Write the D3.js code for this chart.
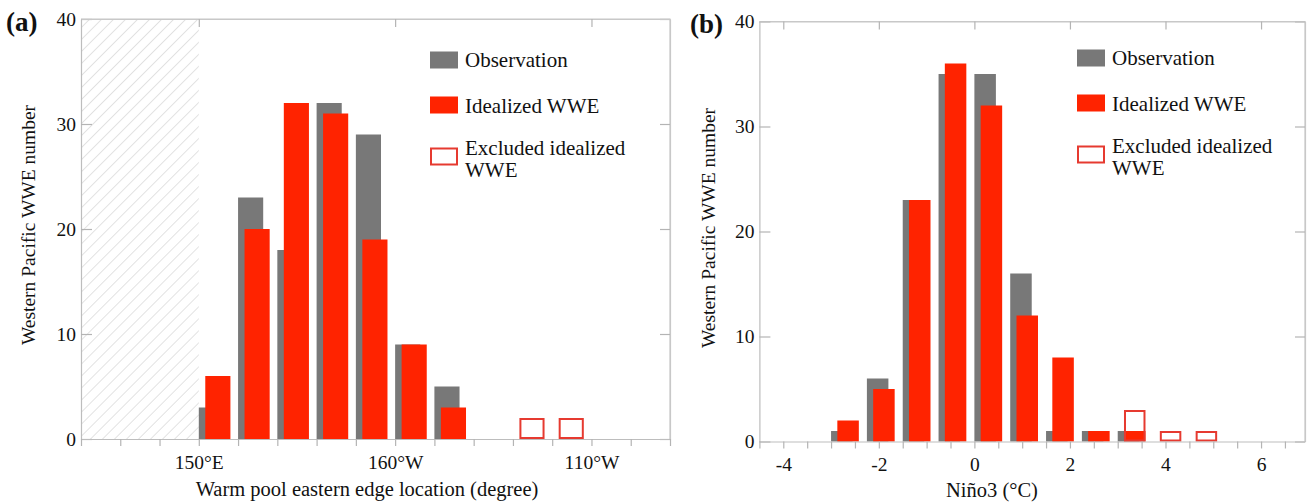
<!DOCTYPE html>
<html>
<head>
<meta charset="utf-8">
<script src="https://cdn.jsdelivr.net/npm/d3@7"></script>
<style>
  html, body { margin: 0; padding: 0; background: #fff; }
  svg { display: block; font-family: "Liberation Serif", "DejaVu Serif", serif; }
</style>
</head>
<body>
<svg id="chart" width="1307" height="502"></svg>
<script>
// ---- Panel (a): warm pool eastern edge location, 10° bins (longitude in °E, 0–360)
const binsA = [150, 160, 170, 180, 190, 200, 210];
const obsA = [3, 23, 18, 32, 29, 9, 5];
const idealA = [6, 20, 32, 31, 19, 9, 3];
const excludedBinsA = [230, 240];
const excludedA = [2, 2];
const tickLabelsA = [[150, "150°E"], [200, "160°W"], [250, "110°W"]];

// ---- Panel (b): Niño3 index, 0.75 °C bins
const binsB = [-3, -2.25, -1.5, -0.75, 0, 0.75, 1.5, 2.25, 3];
const obsB = [1, 6, 23, 35, 35, 16, 1, 1, 1];
const idealB = [2, 5, 23, 36, 32, 12, 8, 1, 1];
const excludedBinsB = [3, 3.75, 4.5];
const excludedB = [3, 1, 1];   // outline height (counted from zero)
const tickLabelsB = [-4, -2, 0, 2, 4, 6];

const yTicks = [0, 10, 20, 30, 40];
const legendItems = ["Observation", "Idealized WWE", ["Excluded idealized", "WWE"]];

const GRAY = "#787878", RED = "#ff2300", OUTLINE = "#e63a30", FRAME = "#c8c8c8";
const FS = 19.5, FS_LEG = 21, FS_TITLE = 20.5;

const svg = d3.select("#chart");
const defs = svg.append("defs");
const pat = defs.append("pattern")
  .attr("id", "hatch").attr("patternUnits", "userSpaceOnUse")
  .attr("width", 8.5).attr("height", 8.5)
  .attr("patternTransform", "rotate(45)");
pat.append("line").attr("x1", 0).attr("y1", 0).attr("x2", 0).attr("y2", 8.5)
  .attr("stroke", "#cbcbcb").attr("stroke-width", 1.1);

function panel(cfg) {
  const { x, y } = cfg;
  const g = svg.append("g");
  const [x0, x1] = x.range();
  const [y0, y1] = y.range(); // y0 bottom, y1 top

  if (cfg.hatch) {
    g.append("rect")
      .attr("x", x0).attr("y", y1)
      .attr("width", x(cfg.hatch[1]) - x0).attr("height", y0 - y1)
      .attr("fill", "url(#hatch)");
  }

  // frame: top and right
  g.append("path")
    .attr("d", `M${x0},${y1}H${x1}V${y0}`)
    .attr("fill", "none").attr("stroke", FRAME).attr("stroke-width", 1.2);

  // bars
  const bw = cfg.binWidth;
  g.selectAll(".obs").data(cfg.bins).join("rect")
    .attr("x", (d) => x(d))
    .attr("width", (d) => x(d + bw * cfg.barFrac) - x(d))
    .attr("y", (d, i) => y(cfg.obs[i]))
    .attr("height", (d, i) => y(0) - y(cfg.obs[i]))
    .attr("fill", GRAY);
  g.selectAll(".ideal").data(cfg.bins).join("rect")
    .attr("x", (d) => x(d + bw * cfg.redOff))
    .attr("width", (d) => x(d + bw * (cfg.redOff + cfg.barFrac)) - x(d + bw * cfg.redOff))
    .attr("y", (d, i) => y(cfg.ideal[i]))
    .attr("height", (d, i) => y(0) - y(cfg.ideal[i]))
    .attr("fill", RED);
  g.selectAll(".excl").data(cfg.exBins).join("rect")
    .attr("x", (d) => x(d + bw * cfg.redOff) + 1)
    .attr("width", (d) => x(d + bw * (cfg.redOff + cfg.barFrac)) - x(d + bw * cfg.redOff) - 2)
    .attr("y", (d, i) => y(cfg.excluded[i]) + 1)
    .attr("height", (d, i) => y(0) - y(cfg.excluded[i]) - 2)
    .attr("fill", "none").attr("stroke", OUTLINE).attr("stroke-width", 2);

  // axes
  const left = g.append("g").attr("transform", `translate(${x0},0)`)
    .call(d3.axisLeft(y).tickValues(yTicks).tickSizeInner(-11).tickSizeOuter(0).tickPadding(5));
  const right = g.append("g").attr("transform", `translate(${x1},0)`)
    .call(d3.axisRight(y).tickValues(yTicks).tickSizeInner(-10).tickSizeOuter(0).tickFormat(""));
  const top = g.append("g").attr("transform", `translate(0,${y1})`)
    .call(d3.axisTop(x).tickValues(cfg.majors).tickSizeInner(-8).tickSizeOuter(0).tickFormat(""));
  const bottom = g.append("g").attr("transform", `translate(0,${y0})`)
    .call(d3.axisBottom(x).tickValues(cfg.minors).tickSizeInner(7).tickSizeOuter(0).tickPadding(9)
      .tickFormat((d) => (cfg.labelOf(d) ?? "")));
  [left, right, top, bottom].forEach((a) => {
    a.select(".domain").attr("stroke", FRAME).attr("stroke-width", 1.2);
    a.selectAll(".tick line").attr("stroke", "#b4b4b4").attr("stroke-width", 1.2);
    a.selectAll("text").attr("font-family", "Liberation Serif").attr("font-size", FS).attr("fill", "#111");
  });
  left.select(".domain").attr("stroke", "#bdbdbd");
  bottom.select(".domain").attr("stroke", "#bdbdbd");

  // panel tag
  g.append("text").attr("x", cfg.tag[0]).attr("y", cfg.tag[1])
    .attr("font-size", 27).attr("font-weight", "bold").attr("fill", "#111").text(cfg.tag[2]);

  // axis titles
  g.append("text")
    .attr("transform", `translate(${cfg.yTitle[0]},${cfg.yTitle[1]}) rotate(-90)`)
    .attr("text-anchor", "middle").attr("font-size", FS).attr("fill", "#111")
    .text("Western Pacific WWE number");
  g.append("text").attr("x", cfg.xTitle[0]).attr("y", cfg.xTitle[1])
    .attr("text-anchor", "middle").attr("font-size", FS_TITLE).attr("fill", "#111")
    .text(cfg.xTitle[2]);

  // legend
  const [lx, ly] = cfg.legend;
  const leg = g.append("g").attr("transform", `translate(${lx},${ly})`);
  const rowY = [0, 45, 96];
  leg.append("rect").attr("x", 0).attr("y", rowY[0]).attr("width", 28).attr("height", 17).attr("fill", GRAY);
  leg.append("rect").attr("x", 0).attr("y", rowY[1]).attr("width", 28).attr("height", 17).attr("fill", RED);
  leg.append("rect").attr("x", 1).attr("y", rowY[2] + 1).attr("width", 26).attr("height", 16)
    .attr("fill", "none").attr("stroke", OUTLINE).attr("stroke-width", 2);
  leg.append("text").attr("x", 35).attr("y", rowY[0] + 15).attr("font-size", FS_LEG).attr("fill", "#111").text(legendItems[0]);
  leg.append("text").attr("x", 35).attr("y", rowY[1] + 16).attr("font-size", FS_LEG).attr("fill", "#111").text(legendItems[1]);
  const t3 = leg.append("text").attr("x", 35).attr("y", rowY[2] + 7).attr("font-size", FS_LEG).attr("fill", "#111");
  t3.append("tspan").attr("x", 35).text(legendItems[2][0]);
  t3.append("tspan").attr("x", 35).attr("dy", 22).text(legendItems[2][1]);
}

// Panel (a)
const xA = d3.scaleLinear().domain([120, 270]).range([81, 670]);
const yA = d3.scaleLinear().domain([0, 40]).range([439, 19]);
const labA = new Map(tickLabelsA);
panel({
  x: xA, y: yA, hatch: [120, 150],
  bins: binsA, obs: obsA, ideal: idealA, exBins: excludedBinsA, excluded: excludedA,
  binWidth: 10, barFrac: 0.64, redOff: 0.165,
  majors: tickLabelsA.map((d) => d[0]),
  minors: d3.range(120, 271, 10),
  labelOf: (d) => labA.get(d),
  tag: [6, 31, "(a)"], yTitle: [35, 225],
  xTitle: [367, 496, "Warm pool eastern edge location (degree)"],
  legend: [430, 51.5]
});

// Panel (b)
const xB = d3.scaleLinear().domain([-4.5, 6.92]).range([759.4, 1305]);
const yB = d3.scaleLinear().domain([0, 40]).range([441.5, 21.5]);
panel({
  x: xB, y: yB, hatch: null,
  bins: binsB, obs: obsB, ideal: idealB, exBins: excludedBinsB, excluded: excludedB,
  binWidth: 0.75, barFrac: 0.6, redOff: 0.175,
  majors: tickLabelsB,
  minors: d3.range(-4.5, 6.6, 0.5),
  labelOf: (d) => (tickLabelsB.includes(d) ? String(d) : null),
  tag: [690, 33, "(b)"], yTitle: [715, 228],
  xTitle: [992, 497, "Niño3 (°C)"],
  legend: [1077, 49.5]
});
</script>
</body>
</html>
